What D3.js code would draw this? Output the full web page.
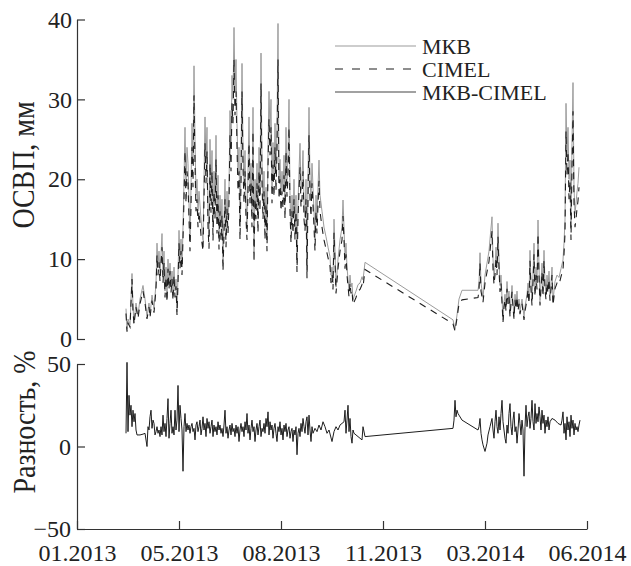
<!DOCTYPE html>
<html>
<head>
<meta charset="utf-8">
<script src="https://cdn.jsdelivr.net/npm/d3@7"></script>
<style>
  body { margin: 0; background: #fff; }
  text { font-family: "Liberation Serif", "Times New Roman", serif; fill: #222; }
</style>
</head>
<body>
<svg id="chart" width="631" height="566"></svg>
<script>
// observation days, counted from 01.01.2013
const topDays = [
  73,74,75,77,79,80,81,83,85,87,90,92,94,96,97,99,101,103,104,105,106,107,109,110,111,112,113,114,115,116,117,118,119,120,121,122,123,124,125,126,127,128,129,130,
  131,132,133,134,135,136,137,138,139,140,141,142,143,144,145,146,148,150,151,152,153,154,155,156,157,158,159,160,161,162,163,164,165,166,167,168,169,170,171,172,173,174,175,176,177,
  178,179,180,181,182,183,184,185,186,187,188,189,190,191,192,193,194,195,196,197,198,199,200,201,202,203,204,205,206,207,208,209,210,211,212,213,214,215,216,217,218,219,220,221,222,223,224,225,226,227,
  228,229,230,231,232,233,234,235,236,237,238,239,240,241,242,243,244,245,246,247,248,249,250,251,252,253,254,255,256,257,258,259,260,261,262,263,264,265,266,267,
  269,271,273,275,277,278,279,280,281,282,283,285,287,289,290,291,292,293,294,295,296,297,298,299,300,301,303,305,307,309,310,312,
  400,402,404,406,409,425,
  426,427,428,430,432,434,436,437,439,440,441,442,443,444,445,446,447,448,450,451,452,453,454,455,456,457,458,459,460,461,462,463,464,465,466,467,469,471,472,474,
  475,476,477,478,479,480,481,482,483,484,485,486,487,488,489,490,491,492,493,494,495,496,497,498,499,500,501,502,504,506,508,510,511,512,513,514,515,516,517,518,519,520,521,522,523,524,525,526
];

// ОСВП by МКВ, mm
const mkb = [
  3.8,1.2,2.5,1.8,8.2,4,2,4.5,3,5,6.7,5,2.8,4.5,3,5.5,3.8,7,12,9,11,8,13.2,8,11,6,9,5.2,10,7,9.5,6.5,8.5,5.5,9,6,7.5,3.4,8,13.6,10,12.5,9,14,
  20,26.5,19,24,22,17,12.4,19,27,22,34.2,25,18,20,16,18.5,15,12.4,20,27.8,22,26.5,16,12.8,25,18,23.6,14,21,17,25.5,15,20.5,12.8,18,14,17.5,9.5,15,20,13,18.5,15,19,28.6,
  24,33,30,39,31,35,27,21,24,14,22,34.5,24,19,23.6,17,14,21,27.8,19,22,16,29,10.8,20,17,22,15,24,18,35.8,22,17,21,14,19,12.4,24,31,26,
  30,19,24.6,20,27,21,26.5,39.5,20,22.5,18,21,18.5,23,17,26.5,20,23,30,18,13.6,18,15,20,14,18,9.5,17,21,24.5,18.6,20,23.6,17,15.3,20,8.6,20,29,20,17.4,22,19,16,12.4,18,15,19,22.4,18,
  16,14,12.8,11.5,10.3,8,9,7,15,11,6.5,10,12.4,14,17.4,14,10,12,9,7.5,6.1,8,6.5,7,4.9,5.3,6,6.8,7,7.8,7.4,9.6,
  2.4,1.2,3,5,6.1,6.1,
  7,10.8,7,5.2,8,9.5,11,12.5,15.3,10,7.7,9,11.5,9,14.5,10,6.7,8,2.4,4.5,5.6,4,7.2,5,6,3.2,5,6.7,4.5,2.8,5.6,4.2,6,4,5,3.5,5,2.8,4,5.6,
  7,5,11.1,7,4.8,8,12,6,9,7,14.9,9,4.8,7,9.5,6,11.1,7,5.6,8,6.5,8.5,5.5,7,9,4.8,6,7.2,8,7.7,8.8,9.9,12,14.9,29.5,23,26.5,20,22.4,14,24.5,32.1,19,15.7,17,18.4,19.5,21.5
];

// ОСВП by CIMEL, mm
const cimel = [
  3.2,0.9,2,1.5,7.5,3.5,1.8,4,2.6,4.4,6,4.5,2.5,4,2.7,4.8,3.3,6.2,10.5,8,9.6,7.2,11.5,7,9.5,5.2,7.8,4.6,8.8,6.2,8.5,5.8,7.5,4.8,8,5.2,6.6,3,7,12,8.8,11,8,12.5,
  17.5,23.5,17,21,19.5,15,11,16.5,24,19,30.5,22,16,17.5,14,16,13,11,17.5,24.5,19.5,23.5,14,11.3,22,15.8,21,12.3,18.5,15,22.5,13.2,18,11.2,16,12.3,15.5,8.5,13.2,17.5,11.5,16.3,13.2,16.8,25.5,
  21,29.5,27,35,28,31,24,18.5,21,12.4,19.5,31,21.5,17,21,15,12.4,18.5,24.5,17,19.5,14,26,9.6,17.6,15,19.5,13.3,21,16,32,19.5,15,18.5,12.4,17,11,21.5,27.5,23,
  26.5,17,21.8,17.8,24,18.5,23.5,35,17.5,20,16,18.5,16.3,20.5,15,23.5,17.8,20.5,26.5,16,12,16,13.2,17.5,12.4,16,8.4,15,18.5,21.5,16.5,17.5,21,15,13.5,17.5,7.6,17.6,25.5,17.6,15.3,19.5,16.8,14,11,16,13.2,16.8,19.8,16,
  14,12.4,11.3,10.2,9.1,7,8,6.2,13.3,9.7,5.7,8.8,11,12.4,15.4,12.4,8.8,10.6,8,6.6,5.3,7,5.7,6.1,4.3,4.6,5.2,6,6.2,6.8,6.5,8.7,
  1.9,1.0,2.6,4.4,4.9,5.2,
  6,9.5,6,4.6,7,8.4,9.7,11,13.5,8.8,6.8,8,10.2,8,12.8,8.8,5.9,7,2.1,4,4.9,3.5,6.3,4.4,5.3,2.8,4.4,5.9,4,2.5,4.9,3.7,5.3,3.5,4.4,3.1,4.4,2.4,3.5,4.9,
  6.2,4.4,9.8,6.2,4.2,7,10.6,5.3,8,6.2,13.2,8,4.2,6.2,8.4,5.3,9.8,6.2,4.9,7,5.7,7.5,4.8,6.2,8,4.2,5.3,6.3,7,6.8,7.8,8.7,10.6,13.2,26,20.5,23.5,17.5,19.8,12.4,21.5,28.5,17,14,15,16.3,17.3,19
];

// МКВ-CIMEL difference, %
const diffDays = [
  73,74,75,76,77,78,79,80,81,82,83,84,87,90,92,
  94,95,96,97,98,99,100,101,102,103,104,105,106,107,108,109,110,111,112,113,114,115,116,117,118,119,120,121,122,123,124,125,126,127,128,129,130,131,
  132,133,134,135,136,137,138,139,140,141,142,143,144,145,146,147,148,149,150,151,152,153,154,155,156,157,158,159,160,161,162,163,164,165,166,167,168,169,170,171,
  172,173,174,175,176,177,178,179,180,181,182,183,184,185,186,187,188,189,190,191,192,193,194,195,196,197,198,199,200,201,202,203,204,205,206,207,208,209,210,211,
  212,213,214,215,216,217,218,219,220,221,222,223,224,225,226,227,228,229,230,231,232,233,234,235,236,237,238,239,240,241,242,243,244,245,246,247,248,249,250,251,
  252,253,254,255,256,257,258,259,
  260,262,264,266,268,270,272,274,276,279,281,283,285,287,289,291,
  292,293,294,295,296,297,298,299,300,301,303,305,307,309,310,312,
  400,401,402,403,404,405,406,409,417,425,
  426,427,428,429,430,432,434,435,437,439,440,441,442,443,444,445,446,447,448,449,450,451,452,453,454,455,456,457,458,459,460,461,462,463,464,465,466,467,468,469,
  470,471,472,473,474,475,476,477,478,479,480,481,482,483,484,485,486,487,488,489,490,491,492,493,494,495,496,497,499,502,505,508,509,510,511,512,513,514,515,516,
  517,518,519,520,521,522,523,524,525,526,527
];
const diffPct = [
  8,51,9,31,19,25,12,22,15,20,10,7,7,7.5,8,
  0,12,10,18,22,11,16,14,7,9,12,8,10,6,12,7,19,9,14,6,17,29,5,14,22,8,12,7,22,10,16,37,9,25,17,10,-15,12,
  20,9,14,10,13,8,12,14,9,11,4,13,15,9,12,16,7,11,18,10,14,6,17,11,15,8,12,16,6,13,9,12,7,15,10,13,8,11,6,13,
  22,8,12,5,10,13,7,14,9,11,6,13,8,12,3,10,14,9,12,6,15,10,20,8,13,4,11,16,9,12,3,10,14,7,12,16,6,11,9,14,
  8,17,12,21,7,15,10,13,5,11,14,8,3,12,9,15,7,11,4,13,9,14,6,10,12,5,9,11,3,10,7,12,-5,8,11,6,14,9,17,12,
  8,15,18,7,19,10,3,12,
  8,11,9,13,10,15,12,8,10,3,9,12,10,13,14,15,
  22,8,16,25,9,17,6,2,10,8,7,6,5,4,12,6,
  11,16,28,18,22,20,19,16,13,10,
  12,17,8,4,1,-3,2,7,12,17,10,5,15,22,12,8,18,10,20,28,15,10,5,2,13,8,20,26,12,7,16,21,9,12,2,10,20,14,7,16,
  10,-18,12,25,12,18,21,11,17,28,15,10,26,14,20,15,24,18,10,22,14,19,8,16,12,18,10,15,17,16,14,13,16,21,8,14,4,18,10,15,
  6,19,11,16,7,14,10,12,9,13,16
];

const topTicks = [0, 10, 20, 30, 40];
const diffTicks = [-50, 0, 50];
const tickDates = ["2013-01-25", "2013-05-07", "2013-08-17", "2013-11-27", "2014-03-09", "2014-06-19"];
const legendNames = ["МКВ", "CIMEL", "МКВ-CIMEL"];

const svg = d3.select("#chart");
const day0 = Date.UTC(2013, 0, 1);
const toDate = d => new Date(day0 + d * 864e5);

const x = d3.scaleUtc()
    .domain([new Date("2013-01-25"), new Date("2014-06-19")])
    .range([77, 587]);
const yTop = d3.scaleLinear().domain([0, 40]).range([339, 19.5]);
const yDiff = d3.scaleLinear().domain([-50, 50]).range([529, 364]);

const colMkb = "#9c9c9c", colDark = "#1e1e1e", colAxis = "#333";

// top panel axis
const topAxis = svg.append("g")
    .attr("transform", "translate(77,0)")
    .call(d3.axisLeft(yTop).tickValues(topTicks).tickSizeInner(-8).tickSizeOuter(0).tickPadding(5));

// bottom panel axes
const diffAxis = svg.append("g")
    .attr("transform", "translate(77,0)")
    .call(d3.axisLeft(yDiff).tickValues(diffTicks).tickSizeInner(-8).tickSizeOuter(0).tickPadding(6));

const xAxis = svg.append("g")
    .attr("transform", "translate(0,529)")
    .call(d3.axisBottom(x)
        .tickValues(tickDates.map(s => new Date(s)))
        .tickFormat(d3.utcFormat("%m.%Y"))
        .tickSizeInner(-8).tickSizeOuter(0).tickPadding(15));

[topAxis, diffAxis, xAxis].forEach(g => {
    g.selectAll("path, line").attr("stroke", colAxis).attr("stroke-width", 1.2);
    g.selectAll("text").attr("font-size", 24).attr("fill", "#222")
        .style("font-family", '"Liberation Serif", serif');
});

// axis titles
svg.append("text")
    .attr("transform", "translate(34,165) rotate(-90) scale(0.9,1)")
    .attr("text-anchor", "middle")
    .attr("font-size", 31)
    .text("ОСВП, мм");

svg.append("text")
    .attr("transform", "translate(35,422) rotate(-90) scale(0.9,1)")
    .attr("text-anchor", "middle")
    .attr("font-size", 31)
    .text("Разность, %");

// series
const topLine = d3.line().x(d => x(d.date)).y(d => yTop(d.v));
const diffLine = d3.line().x(d => x(d.date)).y(d => yDiff(d.v));

const mkbData = topDays.map((d, i) => ({ date: toDate(d), v: mkb[i] }));
const cimelData = topDays.map((d, i) => ({ date: toDate(d), v: cimel[i] }));
const diffData = diffDays.map((d, i) => ({ date: toDate(d), v: diffPct[i] }));

svg.append("path").datum(mkbData)
    .attr("fill", "none").attr("stroke", colMkb).attr("stroke-width", 1)
    .attr("d", topLine);

svg.append("path").datum(cimelData)
    .attr("fill", "none").attr("stroke", colDark).attr("stroke-width", 1.1)
    .attr("stroke-dasharray", "7,6")
    .attr("d", topLine);

svg.append("path").datum(diffData)
    .attr("fill", "none").attr("stroke", colDark).attr("stroke-width", 1)
    .attr("d", diffLine);

// legend
const legendStyles = [
    { stroke: colMkb, dash: null },
    { stroke: colDark, dash: "8,9" },
    { stroke: "#444", dash: null }
];
const legend = svg.append("g");
legendNames.forEach((name, i) => {
    const yy = 46 + i * 23;
    legend.append("line")
        .attr("x1", 335).attr("x2", 416).attr("y1", yy).attr("y2", yy)
        .attr("stroke", legendStyles[i].stroke).attr("stroke-width", 1.1)
        .attr("stroke-dasharray", legendStyles[i].dash);
    legend.append("text")
        .attr("x", 422).attr("y", yy + 7.5)
        .attr("font-size", 22)
        .text(name);
});
</script>
</body>
</html>
